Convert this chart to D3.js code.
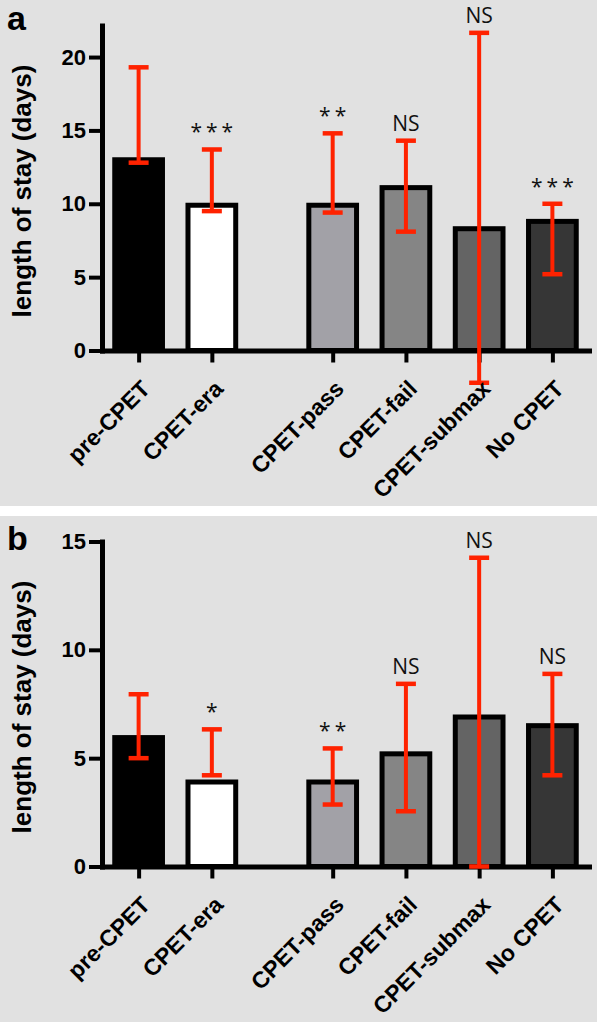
<!DOCTYPE html>
<html>
<head>
<meta charset="utf-8">
<script src="https://cdn.jsdelivr.net/npm/d3@7"></script>
<style>
  body { margin: 0; background: #fff; }
  .tick text, .axis-title, .x-label, .panel-letter {
    font-family: "Liberation Sans", Arial, sans-serif;
    font-weight: bold;
    fill: #000;
  }
  .sig { font-family: "Open Sans", "Noto Sans", sans-serif; fill: #111; }
</style>
</head>
<body>
<div id="chart"></div>
<script>
// categories, in the order drawn; the gap after the first two comes from groups
const categories = ["pre-CPET", "CPET-era", "CPET-pass", "CPET-fail", "CPET-submax", "No CPET"];
const groups = ["era", "era", "test", "test", "test", "test"];
const barColors = ["#000000", "#ffffff", "#a2a1a7", "#858585", "#646464", "#363636"];

// panel a
const meanA = [13.0, 9.9, 9.9, 11.1, 8.3, 8.8];
const upperA = [19.3, 13.7, 14.8, 14.3, 21.65, 10.0];
const lowerA = [12.8, 9.5, 9.4, 8.1, -2.2, 5.2];
const sigA = ["", "***", "**", "NS", "NS", "***"];
const ticksA = [0, 5, 10, 15, 20];

// panel b
const meanB = [5.95, 3.9, 3.9, 5.2, 6.9, 6.5];
const upperB = [7.95, 6.33, 5.45, 8.43, 14.25, 8.89];
const lowerB = [5.0, 4.21, 2.86, 2.55, 0, 4.21];
const sigB = ["", "*", "**", "NS", "NS", "NS"];
const ticksB = [0, 5, 10, 15];

const GROUP_GAP = 0.65;
const RED = "#ff2200";

class BarPanel {
  constructor(_config, data) {
    this.config = {
      parentElement: _config.parentElement,
      top: _config.top,
      containerWidth: 597,
      containerHeight: 506,
      margin: { top: 25.5, right: 8, bottom: 155.5, left: 102 },
      yMax: _config.yMax,
      ticks: _config.ticks,
      letter: _config.letter,
      letterY: _config.letterY,
    };
    this.data = data;
    this.initVis();
  }

  initVis() {
    let vis = this;
    const m = vis.config.margin;
    vis.width = vis.config.containerWidth - m.left - m.right;
    vis.height = vis.config.containerHeight - m.top - m.bottom;

    vis.panel = d3.select(vis.config.parentElement)
      .append("g")
      .attr("transform", `translate(0,${vis.config.top})`);

    vis.panel.append("rect")
      .attr("width", vis.config.containerWidth)
      .attr("height", vis.config.containerHeight)
      .attr("fill", "#e1e1e1");

    vis.panel.append("text")
      .attr("class", "panel-letter")
      .attr("x", 7)
      .attr("y", vis.config.letterY)
      .style("font-size", "34px")
      .text(vis.config.letter);

    vis.chart = vis.panel.append("g")
      .attr("transform", `translate(${m.left},${m.top})`);

    vis.xScale = d3.scaleLinear().domain([-0.5, 6.15]).range([0, vis.width]);
    vis.yScale = d3.scaleLinear().domain([0, vis.config.yMax]).range([vis.height, 0]);

    vis.yAxis = d3.axisLeft(vis.yScale)
      .tickValues(vis.config.ticks)
      .tickSize(13)
      .tickSizeOuter(0)
      .tickPadding(3);

    vis.xAxis = d3.axisBottom(vis.xScale)
      .tickSize(12)
      .tickSizeOuter(0)
      .tickFormat("");

    vis.renderVis();
  }

  renderVis() {
    let vis = this;
    const groupNames = Array.from(new Set(groups));
    const rows = categories.map((c, i) => ({
      name: c,
      slot: i + groupNames.indexOf(groups[i]) * GROUP_GAP,
      mean: vis.data.mean[i],
      upper: vis.data.upper[i],
      lower: vis.data.lower[i],
      sig: vis.data.sig[i],
      color: barColors[i],
    }));

    vis.xAxis.tickValues(rows.map((d) => d.slot));

    const yAxisG = vis.chart.append("g").attr("class", "y-axis").call(vis.yAxis);
    const xAxisG = vis.chart.append("g")
      .attr("class", "x-axis")
      .attr("transform", `translate(0,${vis.height})`)
      .call(vis.xAxis);

    [yAxisG, xAxisG].forEach((g) => {
      g.select(".domain").attr("stroke-width", 5).attr("stroke-linecap", "square");
      g.selectAll(".tick line").attr("stroke-width", 4);
    });
    yAxisG.selectAll(".tick text").style("font-size", "22px");

    const step = vis.xScale(1) - vis.xScale(0);
    const barW = step * 0.72 - 5;

    vis.chart.selectAll(".bar")
      .data(rows)
      .join("rect")
      .attr("class", "bar")
      .attr("x", (d) => vis.xScale(d.slot) - barW / 2)
      .attr("y", (d) => vis.yScale(d.mean))
      .attr("width", barW)
      .attr("height", (d) => vis.yScale(0) - vis.yScale(d.mean))
      .attr("fill", (d) => d.color)
      .attr("stroke", "#000")
      .attr("stroke-width", 5);

    // error bars
    const err = vis.chart.selectAll(".err")
      .data(rows)
      .join("g")
      .attr("class", "err")
      .attr("stroke", RED);

    err.append("line")
      .attr("x1", (d) => vis.xScale(d.slot))
      .attr("x2", (d) => vis.xScale(d.slot))
      .attr("y1", (d) => vis.yScale(d.lower))
      .attr("y2", (d) => vis.yScale(d.upper))
      .attr("stroke-width", 4);

    ["upper", "lower"].forEach((k) => {
      err.append("line")
        .attr("x1", (d) => vis.xScale(d.slot) - 10)
        .attr("x2", (d) => vis.xScale(d.slot) + 10)
        .attr("y1", (d) => vis.yScale(d[k]))
        .attr("y2", (d) => vis.yScale(d[k]))
        .attr("stroke-width", 4.5);
    });

    vis.chart.selectAll(".sig")
      .data(rows.filter((d) => d.sig))
      .join("text")
      .attr("class", "sig")
      .attr("x", (d) => vis.xScale(d.slot))
      .attr("y", (d) => vis.yScale(d.upper) - 10)
      .attr("dx", (d) => (d.sig[0] === "*" ? 2 : 0))
      .attr("text-anchor", "middle")
      .style("font-size", "21px")
      .style("letter-spacing", (d) => (d.sig[0] === "*" ? "4px" : "0px"))
      .text((d) => d.sig);

    vis.chart.selectAll(".x-label")
      .data(rows)
      .join("text")
      .attr("class", "x-label")
      .attr("transform", (d) => `translate(${vis.xScale(d.slot) + 7},${vis.height + 34}) rotate(-45)`)
      .attr("text-anchor", "end")
      .attr("dy", "0.35em")
      .style("font-size", "23px")
      .text((d) => d.name);

    vis.chart.append("text")
      .attr("class", "axis-title")
      .attr("transform", `translate(${30.5 - vis.config.margin.left},${vis.height / 2 + 3}) rotate(-90)`)
      .attr("text-anchor", "middle")
      .style("font-size", "26px")
      .text("length of stay (days)");
  }
}

const svg = d3.select("#chart")
  .append("svg")
  .attr("width", 600)
  .attr("height", 1024);

new BarPanel(
  { parentElement: svg.node(), top: 0, yMax: 22.15, ticks: ticksA, letter: "a", letterY: 30 },
  { mean: meanA, upper: upperA, lower: lowerA, sig: sigA }
);
new BarPanel(
  { parentElement: svg.node(), top: 516, yMax: 15, ticks: ticksB, letter: "b", letterY: 34 },
  { mean: meanB, upper: upperB, lower: lowerB, sig: sigB }
);
</script>
</body>
</html>
